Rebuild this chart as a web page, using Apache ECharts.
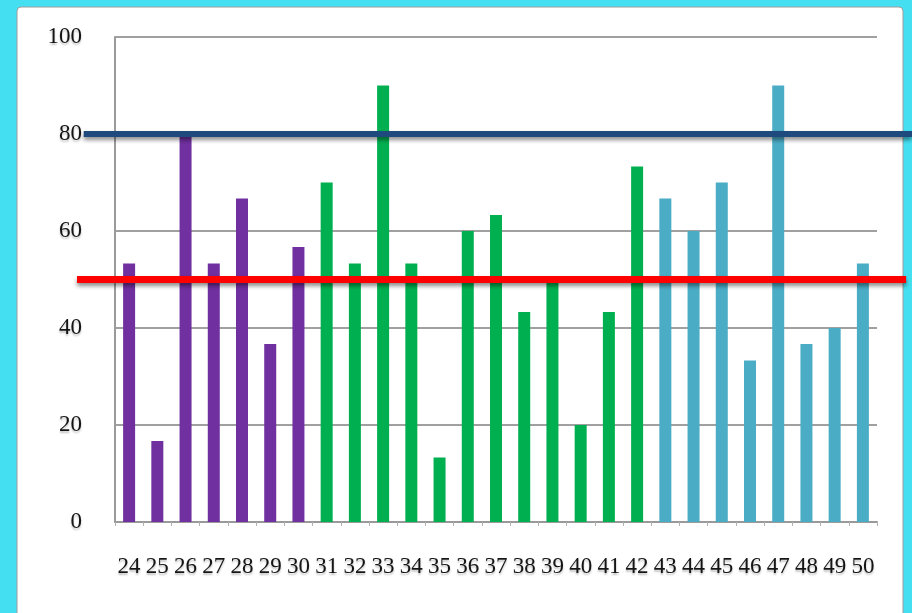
<!DOCTYPE html>
<html>
<head>
<meta charset="utf-8">
<script src="https://cdn.jsdelivr.net/npm/echarts@6/dist/echarts.min.js"></script>
<style>
  html, body { margin: 0; padding: 0; background: #44e0f2; }
  #chart { width: 912px; height: 613px; }
</style>
</head>
<body>
<div id="chart"></div>
<script>
// Category labels (numbers 24 … 50)
const categories = ['24','25','26','27','28','29','30','31','32','33','34','35','36','37',
                    '38','39','40','41','42','43','44','45','46','47','48','49','50'];

// Scores, split into the three coloured groups
const groupA = [53.3, 16.7, 80, 53.3, 66.7, 36.7, 56.7];                               // 24–30
const groupB = [70, 53.3, 90, 53.3, 13.3, 60, 63.3, 43.3, 50, 20, 43.3, 73.3];         // 31–42
const groupC = [66.7, 60, 70, 33.3, 90, 36.7, 40, 53.3];                               // 43–50

// Reference levels
const upperLine = 80;
const lowerLine = 50;

const yTicks = [0, 20, 40, 60, 80, 100];

const colors = { a: '#7030a0', b: '#00b050', c: '#4bacc6' };

// Pad each group to full category length so all three share one axis
function place(values, offset) {
  const out = categories.map(() => null);
  values.forEach((v, i) => { out[offset + i] = v; });
  return out;
}
const dataA = place(groupA, 0);
const dataB = place(groupB, groupA.length);
const dataC = place(groupC, groupA.length + groupB.length);

const font = '"Liberation Serif", "DejaVu Serif", serif';
const labelStyle = {
  color: '#151515', fontFamily: font, fontSize: 23, fontWeight: 500,
  textShadowColor: 'rgba(0,0,0,0.25)', textShadowBlur: 2, textShadowOffsetY: 2
};

const chart = echarts.init(document.getElementById('chart'));

const barSeries = (name, data, color) => ({
  name, type: 'bar', data, xAxisIndex: 0, yAxisIndex: 0,
  barWidth: 12, barGap: '-100%',
  itemStyle: { color }
});

const refLine = (value, from, to, color, width) => ({
  type: 'line', xAxisIndex: 1, yAxisIndex: 1,
  data: [[from, value], [to, value]],
  symbol: 'none', silent: true, z: 5,
  lineStyle: {
    color, width,
    shadowColor: 'rgba(0,0,0,0.45)', shadowBlur: 4, shadowOffsetY: 3
  }
});

chart.setOption({
  animation: false,
  backgroundColor: '#44e0f2',
  graphic: [{
    type: 'rect', z: -10,
    shape: { x: 17, y: 7, width: 886, height: 640, r: 4 },
    style: { fill: '#ffffff', stroke: '#9c9c9c', lineWidth: 1 }
  }],
  grid: [
    { left: 115, right: 35, top: 37, bottom: 91 },
    { left: 77, right: 0, top: 37, bottom: 91 }
  ],
  xAxis: [
    {
      type: 'category', gridIndex: 0, data: categories,
      axisLine: { lineStyle: { color: '#9a9a9a', width: 2 } },
      axisTick: { show: true, length: 4, lineStyle: { color: '#b0b0b0' } },
      axisLabel: Object.assign({ margin: 33, interval: 0 }, labelStyle)
    },
    { type: 'value', gridIndex: 1, min: 0, max: 1, show: false }
  ],
  yAxis: [
    {
      type: 'value', gridIndex: 0, min: yTicks[0], max: yTicks[yTicks.length - 1], interval: 20,
      axisLine: { show: true, lineStyle: { color: '#9a9a9a', width: 2 } },
      axisTick: { show: false },
      splitLine: { lineStyle: { color: '#a0a0a0', width: 2 } },
      axisLabel: Object.assign({ margin: 33 }, labelStyle)
    },
    { type: 'value', gridIndex: 1, min: 0, max: 100, show: false }
  ],
  series: [
    barSeries('A', dataA, colors.a),
    barSeries('B', dataB, colors.b),
    barSeries('C', dataC, colors.c),
    refLine(upperLine, 0.008, 1, '#1f4a7e', 6),
    refLine(lowerLine, 0, 0.993, '#ff0000', 7)
  ]
});
</script>
</body>
</html>
